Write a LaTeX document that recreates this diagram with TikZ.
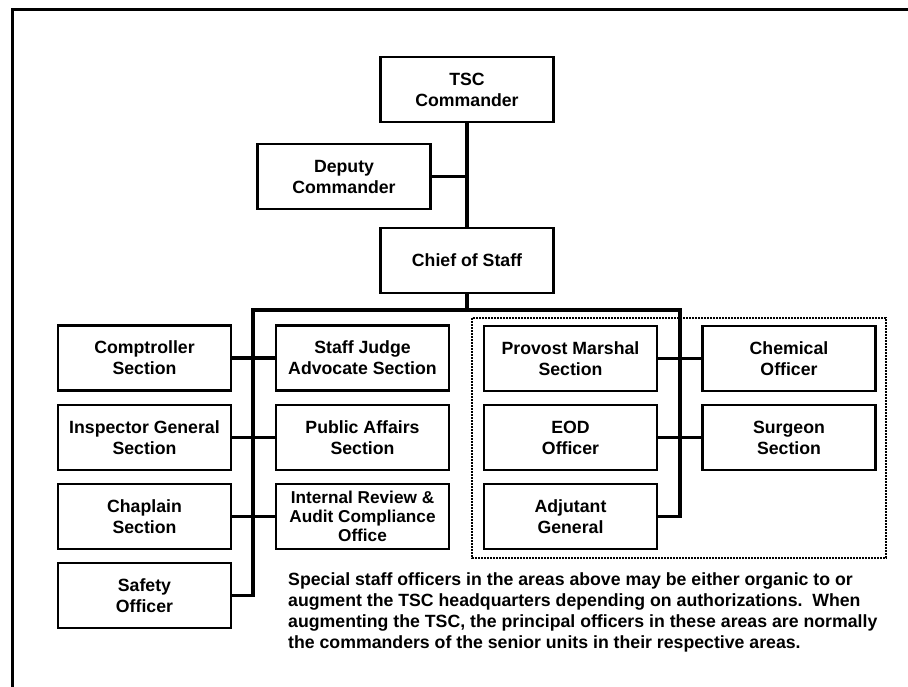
\documentclass[tikz,border=0pt]{standalone}
\usepackage{fontspec}
\setmainfont{Liberation Sans}
\begin{document}
\begin{tikzpicture}[x=1pt,y=-1pt,
  box/.style={draw, line width=2.5pt, minimum width=173pt, minimum height=65pt,
    inner sep=2pt, align=center, font=\bfseries\fontsize{17.7}{21}\selectfont},
  link/.style={line width=3.6pt, line join=miter},
  frame/.style={line width=3pt}]
\useasboundingbox (0,0) rectangle (908,687);
\fill[white] (0,0) rectangle (908,687);
% outer frame (top and left edges)
\draw[frame] (12,700) -- (12,10) -- (920,10);

% command group
\node[box] (tsc)   at (467,89.5)  {TSC\\Commander};
\node[box] (dep)   at (344,176.5) {Deputy\\Commander};
\node[box] (chief) at (467,260.5) {Chief of Staff};

% left column
\node[box] (comp)  at (144.5,358)   {Comptroller\\Section};
\node[box] (ig)    at (144.5,437.5) {Inspector General\\Section};
\node[box] (chap)  at (144.5,516.5) {Chaplain\\Section};
\node[box] (safe)  at (144.5,595.5) {Safety\\Officer};

% middle column
\node[box] (sja)   at (362.5,358)   {Staff Judge\\Advocate Section};
\node[box] (pa)    at (362.5,437.5) {Public Affairs\\Section};
\node[box, font=\bfseries\fontsize{17.2}{18.8}\selectfont] (ir) at (362.5,516.5)
  {Internal Review \&\\Audit Compliance\\Office};

% special staff group
\node[box] (pm)    at (570.5,358.5) {Provost Marshal\\Section};
\node[box] (eod)   at (570.5,437.5) {EOD\\Officer};
\node[box] (ag)    at (570.5,516.5) {Adjutant\\General};
\node[box] (chem)  at (789,358.5)   {Chemical\\Officer};
\node[box] (surg)  at (789,437.5)   {Surgeon\\Section};

\draw[line width=1.6pt, dash pattern=on 1.6pt off 1.4pt] (472,318) rectangle (886,558);

% bus and trunks
\coordinate (bl) at (253,310);
\coordinate (br) at (680,310);
\draw[link] (tsc.south) -- (chief.north);
\draw[link] (dep.east) -- (dep.east -| tsc.south);
\draw[link] (chief.south) -- (chief.south |- bl);
\draw[link] (safe.east) -| (bl) -- (br) |- (ag.east);
\draw[link] (comp.east) -- (sja.west);
\draw[link] (ig.east) -- (pa.west);
\draw[link] (chap.east) -- (ir.west);
\draw[link] (pm.east) -- (chem.west);
\draw[link] (eod.east) -- (surg.west);

% note
\node[anchor=base west, inner sep=0pt, align=left,
  font=\bfseries\fontsize{17.7}{21}\selectfont] (note) at (288,585)
  {\parbox[t]{620pt}{Special staff officers in the areas above may be either organic to or\\
   augment the TSC headquarters depending on authorizations.\ \ When\\
   augmenting the TSC, the principal officers in these areas are normally\\
   the commanders of the senior units in their respective areas.}};
\end{tikzpicture}
\end{document}
